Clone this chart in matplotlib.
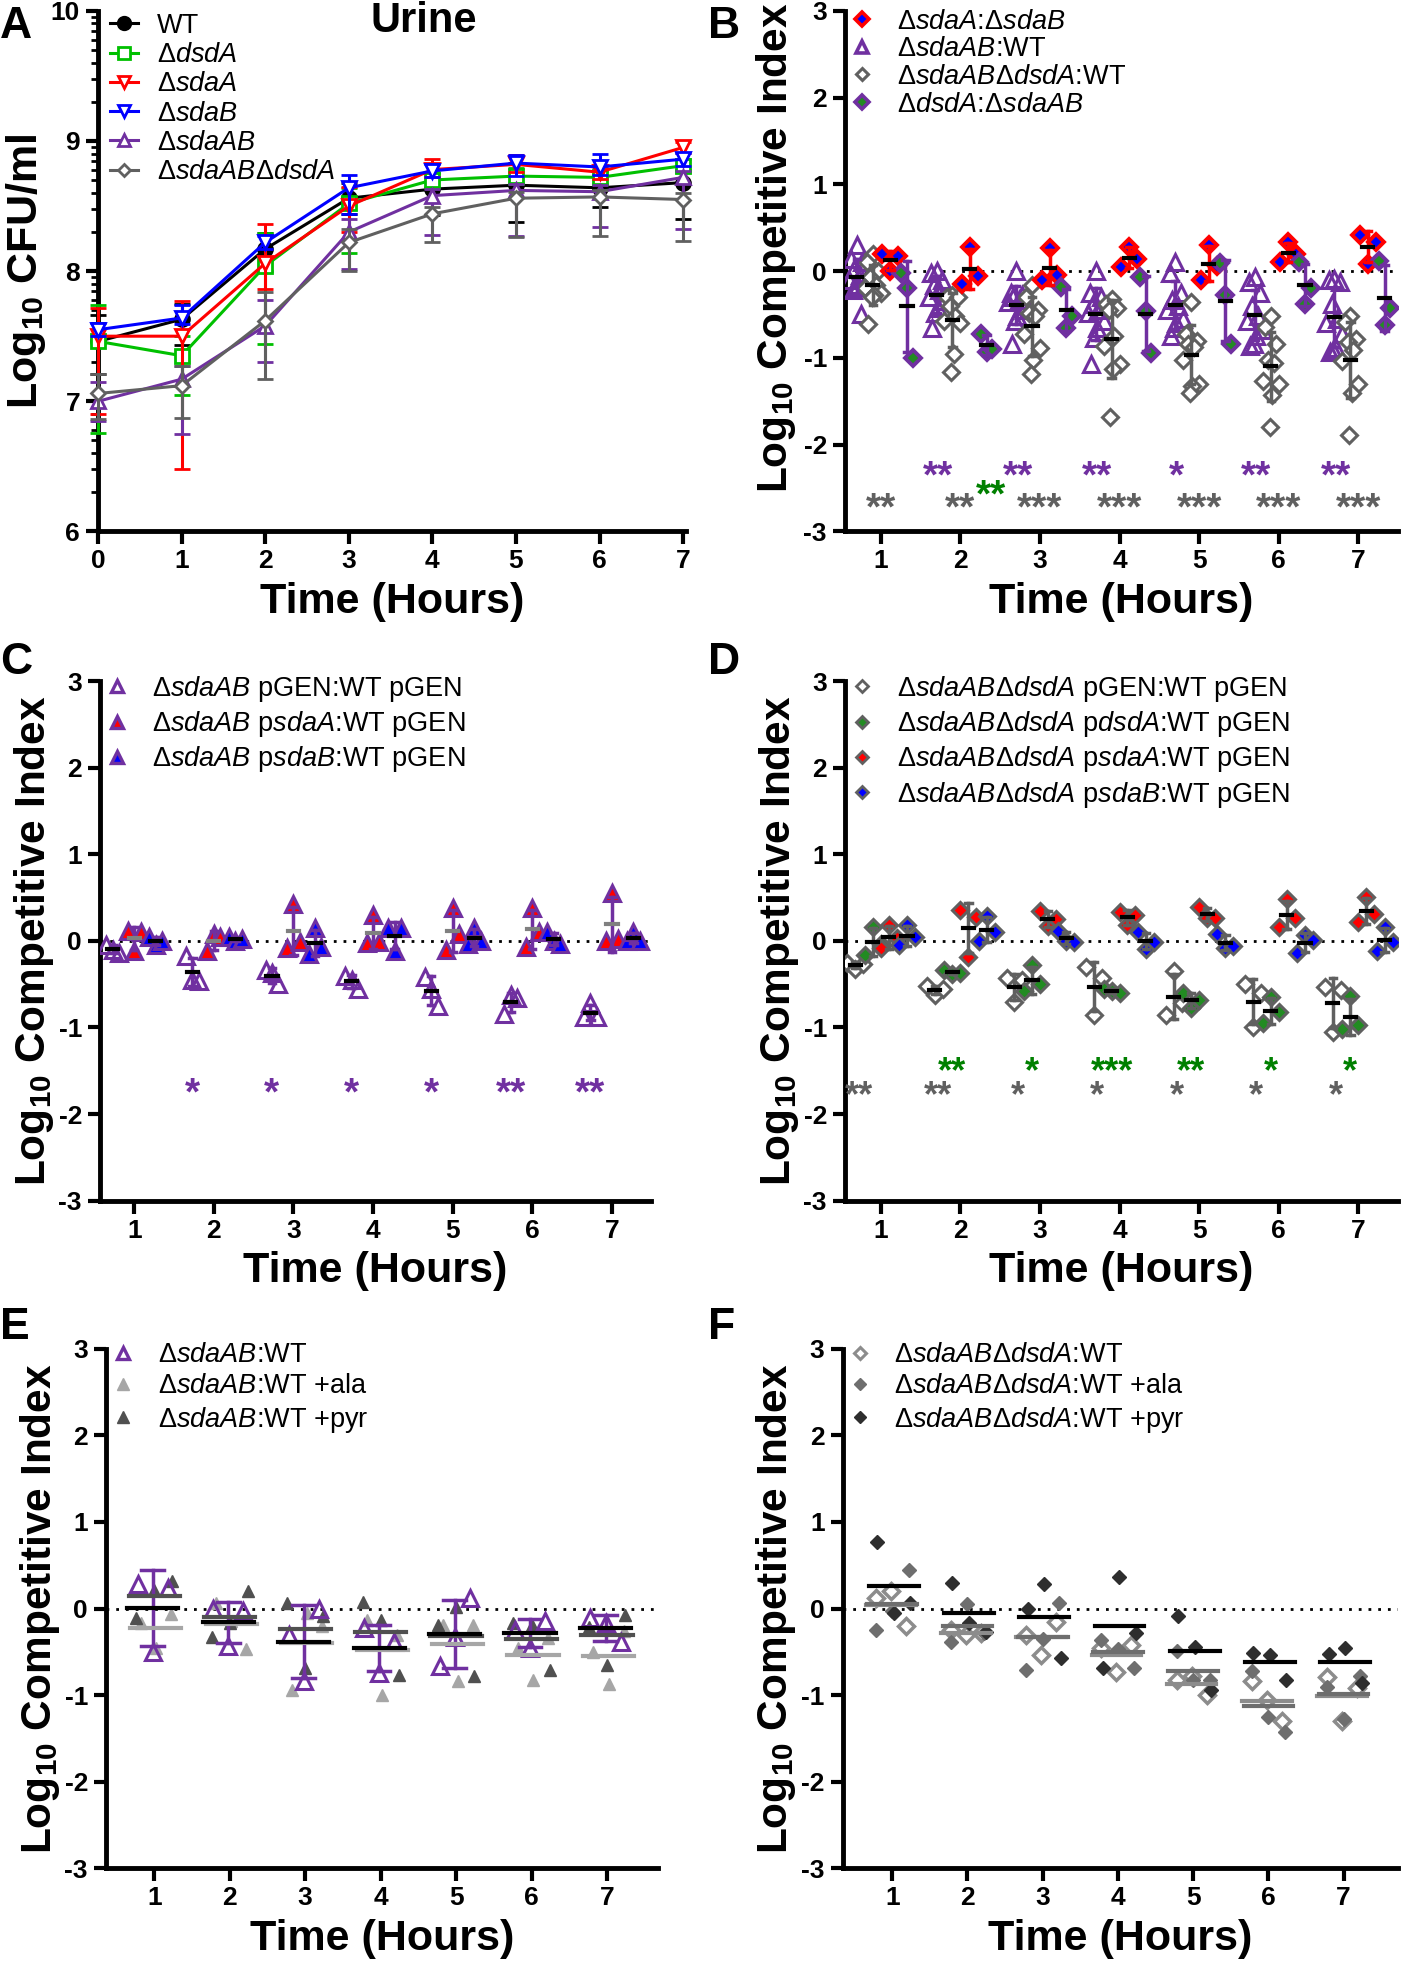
import numpy as np
import matplotlib.pyplot as plt
from matplotlib.lines import Line2D

plt.rcParams['font.family'] = ['Liberation Sans', 'DejaVu Sans']
plt.rcParams['mathtext.fontset'] = 'custom'
plt.rcParams['mathtext.rm'] = 'Liberation Sans'
plt.rcParams['mathtext.it'] = 'Liberation Sans:italic'
plt.rcParams['mathtext.bf'] = 'Liberation Sans:bold'
plt.rcParams['axes.unicode_minus'] = False

PURPLE = '#7030A0'
GRAY = '#606060'
LGRAY = '#A6A6A6'
DGRAY = '#505050'
RED = '#FF0000'
BLUE = '#0000FF'
DGREEN = '#228B22'

# ---------------- Panel A: growth in urine (log10 CFU/ml) ----------------
hours = [0, 1, 2, 3, 4, 5, 6, 7]
wt_mean = [7.46, 7.63, 8.17, 8.56, 8.63, 8.66, 8.64, 8.68]
wt_lo = [0.25, 0.2, 0.17, 0.12, 0.2, 0.28, 0.15, 0.28]
wt_hi = [0.2, 0.12, 0.12, 0.12, 0.12, 0.17, 0.1, 0.1]
dsdA_mean = [7.46, 7.35, 8.04, 8.52, 8.70, 8.73, 8.72, 8.81]
dsdA_lo = [0.7, 0.3, 0.6, 0.38, 0.06, 0.06, 0.05, 0.05]
dsdA_hi = [0.28, 0.15, 0.25, 0.12, 0.06, 0.06, 0.05, 0.05]
sdaA_mean = [7.50, 7.50, 8.06, 8.50, 8.78, 8.82, 8.76, 8.95]
sdaA_lo = [0.6, 1.02, 0.2, 0.2, 0.06, 0.06, 0.05, 0.04]
sdaA_hi = [0.22, 0.27, 0.3, 0.15, 0.08, 0.07, 0.04, 0.04]
sdaB_mean = [7.55, 7.64, 8.22, 8.64, 8.77, 8.83, 8.80, 8.86]
sdaB_lo = [0.05, 0.05, 0.05, 0.2, 0.05, 0.1, 0.06, 0.05]
sdaB_hi = [0.05, 0.1, 0.05, 0.1, 0.05, 0.06, 0.1, 0.05]
sdaAB_mean = [7.00, 7.17, 7.58, 8.30, 8.58, 8.62, 8.61, 8.72]
sdaAB_lo = [0.15, 0.42, 0.28, 0.28, 0.3, 0.35, 0.27, 0.4]
sdaAB_hi = [0.15, 0.1, 0.2, 0.1, 0.05, 0.05, 0.05, 0.05]
triple_mean = [7.06, 7.12, 7.62, 8.22, 8.44, 8.56, 8.57, 8.55]
triple_lo = [0.2, 0.25, 0.45, 0.22, 0.22, 0.3, 0.3, 0.32]
triple_hi = [0.15, 0.15, 0.22, 0.1, 0.05, 0.05, 0.05, 0.05]

# ---------------- Panel B: competitive indices ----------------
b_sdaA_sdaB = [[0.2, 0.0, 0.17], [-0.15, 0.28, -0.06], [-0.1, 0.27, -0.05],
               [0.05, 0.28, 0.14], [-0.1, 0.3, 0.06], [0.11, 0.33, 0.2], [0.42, 0.08, 0.34]]
b_sdaAB_WT = [[0.3, 0.14, 0.1, 0.02, -0.05, -0.1, -0.14, -0.16, -0.18, -0.22, -0.5],
              [0.0, -0.02, -0.1, -0.16, -0.22, -0.3, -0.35, -0.43, -0.48, -0.66],
              [0.0, -0.25, -0.28, -0.3, -0.33, -0.36, -0.45, -0.52, -0.57, -0.84],
              [0.0, -0.25, -0.3, -0.38, -0.45, -0.48, -0.57, -0.66, -0.77, -1.07],
              [0.1, -0.02, -0.25, -0.33, -0.4, -0.45, -0.55, -0.6, -0.66, -0.75],
              [-0.07, -0.13, -0.25, -0.4, -0.52, -0.57, -0.68, -0.75, -0.84, -0.86],
              [-0.09, -0.1, -0.13, -0.38, -0.55, -0.6, -0.73, -0.89, -0.91, -0.93]]
b_triple_WT = [[0.2, 0.1, 0.0, -0.07, -0.16, -0.2, -0.25, -0.27, -0.3, -0.61],
               [-0.27, -0.3, -0.3, -0.4, -0.52, -0.58, -0.6, -0.95, -1.16],
               [-0.16, -0.3, -0.45, -0.48, -0.52, -0.72, -0.89, -1.03, -1.18],
               [-0.32, -0.38, -0.43, -0.45, -0.75, -0.86, -1.07, -1.13, -1.68],
               [-0.36, -0.73, -0.8, -0.84, -0.88, -1.02, -1.3, -1.32, -1.41],
               [-0.52, -0.64, -0.84, -1.02, -1.06, -1.27, -1.3, -1.43, -1.8],
               [-0.52, -0.59, -0.78, -0.82, -0.91, -1.04, -1.3, -1.41, -1.89]]
b_dsdA_sdaAB = [[-0.02, -0.2, -1.0], [-0.72, -0.93, -0.9], [-0.18, -0.65, -0.52],
                [-0.07, -0.46, -0.94], [0.09, -0.27, -0.84], [0.1, -0.38, -0.2], [0.12, -0.62, -0.42]]
b_stars_purple = ['', '**', '**', '**', '*', '**', '**']
b_stars_gray = ['**', '**', '***', '***', '***', '***', '***']
b_stars_green = ['', '**', '', '', '', '', '']

# ---------------- Panel C: sdaAB complementation ----------------
c_pGEN = [[-0.05, -0.1, -0.14], [-0.17, -0.45, -0.46], [-0.33, -0.37, -0.5],
          [-0.4, -0.45, -0.55], [-0.42, -0.55, -0.75], [-0.84, -0.63, -0.66], [-0.88, -0.72, -0.88]]
c_psdaA = [[0.12, -0.12, 0.1], [-0.12, 0.08, 0.05], [-0.08, 0.43, -0.01],
           [-0.02, 0.3, -0.01], [-0.1, 0.38, 0.08], [-0.07, 0.38, 0.1], [0.0, 0.56, 0.02]]
c_psdaB = [[0.05, -0.05, 0.0], [0.05, 0.0, 0.02], [-0.15, 0.15, -0.07],
           [0.15, -0.12, 0.15], [-0.03, 0.15, 0.0], [0.1, 0.0, -0.03], [0.0, 0.1, 0.0]]
c_stars = ['', '*', '*', '*', '*', '**', '**']

# ---------------- Panel D: sdaABdsdA complementation ----------------
d_pGEN = [[-0.25, -0.32, -0.27], [-0.52, -0.62, -0.56], [-0.43, -0.7, -0.45],
          [-0.3, -0.85, -0.43], [-0.86, -0.35, -0.72], [-0.5, -1.0, -0.6], [-0.53, -1.05, -0.57]]
d_pdsdA = [[-0.16, 0.16, -0.04], [-0.34, -0.38, -0.37], [-0.58, -0.28, -0.5],
           [-0.55, -0.58, -0.6], [-0.6, -0.78, -0.68], [-0.95, -0.65, -0.82], [-1.02, -0.64, -0.97]]
d_psdaA = [[-0.08, 0.18, 0.03], [0.36, -0.18, 0.28], [0.35, 0.17, 0.25],
           [0.34, 0.18, 0.3], [0.39, 0.26, 0.27], [0.16, 0.48, 0.27], [0.22, 0.51, 0.31]]
d_psdaB = [[-0.05, 0.18, 0.05], [0.0, 0.29, 0.1], [0.12, 0.0, -0.01],
           [0.1, -0.09, -0.01], [0.08, -0.08, -0.06], [-0.14, 0.07, 0.01], [-0.12, 0.16, -0.01]]
d_stars_green = ['', '**', '*', '***', '**', '*', '*']
d_stars_gray = ['**', '**', '*', '*', '*', '*', '*']

# ---------------- Panel E: sdaAB:WT with supplements ----------------
e_none = [[0.28, -0.5, 0.24], [-0.01, -0.43, -0.03], [-0.3, -0.84, -0.01],
          [-0.22, -0.74, -0.39], [-0.66, -0.33, 0.12], [-0.25, -0.46, -0.14], [-0.11, -0.17, -0.39]]
e_ala = [[-0.17, -0.45, -0.06], [0.07, -0.14, -0.47], [-0.94, -0.05, -0.2],
         [-0.13, -1.0, -0.3], [-0.19, -0.84, -0.19], [-0.46, -0.82, -0.34], [-0.5, -0.87, -0.26]]
e_pyr = [[-0.11, 0.21, 0.32], [-0.33, -0.17, 0.2], [0.06, -0.68, -0.08],
         [0.08, -0.13, -0.77], [-0.19, 0.02, -0.78], [-0.17, -0.19, -0.71], [-0.21, -0.65, -0.07]]

# ---------------- Panel F: sdaABdsdA:WT with supplements ----------------
f_none = [[0.12, 0.2, -0.2], [-0.25, -0.3, -0.28], [-0.3, -0.53, -0.16],
          [-0.45, -0.73, -0.42], [-0.82, -0.78, -1.0], [-0.84, -1.06, -1.3], [-0.79, -1.3, -0.92]]
f_ala = [[-0.25, -0.03, 0.44], [-0.38, 0.05, -0.28], [-0.71, -0.35, 0.07],
         [-0.36, -0.47, -0.68], [-0.49, -0.83, -0.83], [-0.72, -1.25, -1.42], [-0.9, -1.28, -0.78]]
f_pyr = [[0.77, -0.05, 0.07], [0.29, -0.17, -0.27], [0.0, 0.28, -0.57],
         [-0.68, 0.37, -0.28], [-0.09, -0.44, -0.94], [-0.51, -0.53, -0.82], [-0.52, -0.46, -0.86]]

times = np.arange(1, 8)
LEG_FS = 19.5

fig = plt.figure(figsize=(14.02, 19.61), dpi=100)


def style_axis(ax):
    for s in ('top', 'right'):
        ax.spines[s].set_visible(False)
    for s in ('left', 'bottom'):
        ax.spines[s].set_linewidth(3.5)
    ax.tick_params(axis='both', which='major', width=3, length=9, labelsize=19, pad=4)
    for lbl in ax.get_xticklabels() + ax.get_yticklabels():
        lbl.set_fontweight('bold')


def ci_axis(ax, xlim):
    ax.set_xlim(*xlim)
    ax.set_ylim(-3, 3)
    ax.set_xticks(times)
    ax.set_yticks(range(-3, 4))
    ax.axhline(0, color='black', ls=(0, (1, 2.5)), lw=2, zorder=1)
    ax.set_xlabel('Time (Hours)', fontsize=31, fontweight='bold', labelpad=6)
    ax.set_ylabel(r'Log$_{\mathbf{10}}$ Competitive Index', fontsize=30.5, fontweight='bold', labelpad=2)
    style_axis(ax)


def spread(n, w):
    if n <= 3:
        return np.linspace(-w, w, n)
    pat = np.array([0.0, -0.7, 0.7, -0.35, 0.35, -1.0, 1.0, 0.15, -0.15, -0.55, 0.55, 0.0])
    return pat[:n] * w


def draw_group(ax, data, offset, w, marker, face, edge, ms, mew=2.2,
               bar=None, line='black', half=0.07, cap=0.04, lw_line=3):
    for t, vals in zip(times, data):
        xs = t + offset + spread(len(vals), w)
        ax.plot(xs, vals, ls='none', marker=marker, mfc=face, mec=edge, ms=ms, mew=mew, zorder=3)
        m = np.mean(vals)
        sd = np.std(vals, ddof=1)
        xc = t + offset
        if bar is not None:
            ax.plot([xc, xc], [m - sd, m + sd], color=bar, lw=2.5, zorder=4)
            for yy in (m - sd, m + sd):
                ax.plot([xc - cap, xc + cap], [yy, yy], color=bar, lw=2.5, zorder=4)
        ax.plot([xc - half, xc + half], [m, m], color=line, lw=lw_line, zorder=5)


def stars(ax, labels, offset, y, color, size=28):
    for t, s in zip(times, labels):
        if s:
            ax.text(t + offset, y, s, color=color, fontsize=size, fontweight='bold',
                    ha='center', va='center')


def handle(marker, face, edge, ms, mew=2.0):
    return Line2D([], [], ls='none', marker=marker, mfc=face, mec=edge, ms=ms, mew=mew)


def ci_legend(ax, handles, labels, top, spacing):
    ax.legend(handles, labels, loc='upper left', bbox_to_anchor=(0.0127, top), frameon=False,
              fontsize=LEG_FS, handlelength=0.75, handletextpad=0.9, labelspacing=spacing,
              borderpad=0, borderaxespad=0)


# ---------------- A ----------------
axA = fig.add_axes([0.07, 0.729, 0.419, 0.2655])
series = [
    ('WT', wt_mean, wt_lo, wt_hi, 'black', 'o', 'black'),
    (r'$\mathit{\Delta dsdA}$', dsdA_mean, dsdA_lo, dsdA_hi, '#00C000', 's', 'white'),
    (r'$\mathit{\Delta sdaA}$', sdaA_mean, sdaA_lo, sdaA_hi, RED, 'v', 'white'),
    (r'$\mathit{\Delta sdaB}$', sdaB_mean, sdaB_lo, sdaB_hi, BLUE, 'v', 'white'),
    (r'$\mathit{\Delta sdaAB}$', sdaAB_mean, sdaAB_lo, sdaAB_hi, PURPLE, '^', 'white'),
    (r'$\mathit{\Delta sdaAB\Delta dsdA}$', triple_mean, triple_lo, triple_hi, GRAY, 'D', 'white'),
]
order = [5, 4, 1, 2, 3, 0]
for k in order:
    lab, m, lo, hi, col, mk, fc = series[k]
    ms = 7 if mk == 'D' else 10
    axA.errorbar(hours, m, yerr=[lo, hi], color=col, lw=2.2, elinewidth=2.2, capsize=6, capthick=2.2,
                 marker=mk, mfc=fc, mec=col, ms=ms, mew=2, clip_on=False, zorder=3 + k)
axA.set_xlim(0, 7.03)
axA.set_ylim(6, 10)
axA.set_xticks(hours)
axA.set_yticks([6, 7, 8, 9, 10])
axA.set_yticks([k + np.log10(j) for k in range(6, 10) for j in range(2, 10)], minor=True)
axA.tick_params(axis='y', which='minor', width=2, length=5)
axA.set_xlabel('Time (Hours)', fontsize=31, fontweight='bold', labelpad=6)
axA.set_ylabel(r'Log$_{\mathbf{10}}$ CFU/ml', fontsize=31, fontweight='bold', labelpad=2)
style_axis(axA)
hA = [Line2D([], [], color=s[4], lw=2.2, marker=s[5], mfc=s[6], mec=s[4],
             ms=6 if s[5] == 'D' else 9, mew=2) for s in series]
axA.legend(hA, [s[0] for s in series], loc='upper left', bbox_to_anchor=(0.0204, 0.996), frameon=False,
           fontsize=LEG_FS, handlelength=1.04, handletextpad=0.7, labelspacing=0.12,
           borderpad=0, borderaxespad=0)
fig.text(0.3025, 0.9995, 'Urine', ha='center', va='top', fontsize=30, fontweight='bold')

# ---------------- B ----------------
axB = fig.add_axes([0.6027, 0.729, 0.3945, 0.2655])
ci_axis(axB, (0.55, 7.5))
axB.yaxis.set_label_coords(-0.085, 0.545)
draw_group(axB, b_sdaAB_WT, -0.3, 0.1, '^', 'none', PURPLE, 11, bar=PURPLE)
draw_group(axB, b_triple_WT, -0.1, 0.1, 'D', 'white', GRAY, 8, bar=GRAY)
draw_group(axB, b_sdaA_sdaB, 0.12, 0.1, 'D', BLUE, RED, 8, mew=2.8, bar=RED)
draw_group(axB, b_dsdA_sdaAB, 0.33, 0.07, 'D', DGREEN, PURPLE, 8, mew=2.8, bar=PURPLE)
stars(axB, b_stars_purple, -0.28, -2.38, PURPLE)
stars(axB, b_stars_green, 0.38, -2.6, 'green')
stars(axB, b_stars_gray, 0.0, -2.75, GRAY)
hB = [handle('D', BLUE, RED, 7, 2.6), handle('^', 'none', PURPLE, 9, 2.6),
      handle('D', 'white', GRAY, 6.5, 2.2), handle('D', DGREEN, PURPLE, 7, 2.6)]
lB = [r'$\mathit{\Delta sdaA}$:$\mathit{\Delta sdaB}$', r'$\mathit{\Delta sdaAB}$:WT',
      r'$\mathit{\Delta sdaAB\Delta dsdA}$:WT', r'$\mathit{\Delta dsdA}$:$\mathit{\Delta sdaAB}$']
ci_legend(axB, hB, lB, 1.004, 0.06)

# ---------------- C ----------------
axC = fig.add_axes([0.0713, 0.3878, 0.393, 0.2647])
ci_axis(axC, (0.57, 7.49))
draw_group(axC, c_pGEN, -0.27, 0.08, '^', 'none', PURPLE, 11, bar=PURPLE)
draw_group(axC, c_psdaA, 0.0, 0.08, '^', RED, PURPLE, 11, bar=PURPLE, line='#808080')
draw_group(axC, c_psdaB, 0.27, 0.08, '^', BLUE, PURPLE, 11, bar=PURPLE)
stars(axC, c_stars, -0.27, -1.78, PURPLE)
hC = [handle('^', 'none', PURPLE, 9, 2.4), handle('^', RED, PURPLE, 9, 2.4), handle('^', BLUE, PURPLE, 9, 2.4)]
lC = [r'$\mathit{\Delta sdaAB}$ pGEN:WT pGEN', r'$\mathit{\Delta sdaAB}$ p$\mathit{sdaA}$:WT pGEN',
      r'$\mathit{\Delta sdaAB}$ p$\mathit{sdaB}$:WT pGEN']
ci_legend(axC, hC, lC, 1.015, 0.2)

# ---------------- D ----------------
axD = fig.add_axes([0.6027, 0.3878, 0.3945, 0.2647])
ci_axis(axD, (0.55, 7.5))
draw_group(axD, d_pGEN, -0.32, 0.1, 'D', 'white', GRAY, 8, bar=GRAY)
draw_group(axD, d_pdsdA, -0.1, 0.1, 'D', DGREEN, GRAY, 8, bar=GRAY)
draw_group(axD, d_psdaA, 0.1, 0.1, 'D', RED, GRAY, 8, bar=GRAY)
draw_group(axD, d_psdaB, 0.33, 0.1, 'D', BLUE, GRAY, 8, bar=GRAY)
stars(axD, d_stars_green, -0.1, -1.52, 'green', 26)
stars(axD, d_stars_gray, -0.28, -1.8, GRAY, 26)
hD = [handle('D', 'white', GRAY, 6.5), handle('D', DGREEN, GRAY, 6.5),
      handle('D', RED, GRAY, 6.5), handle('D', BLUE, GRAY, 6.5)]
lD = [r'$\mathit{\Delta sdaAB\Delta dsdA}$ pGEN:WT pGEN', r'$\mathit{\Delta sdaAB\Delta dsdA}$ p$\mathit{dsdA}$:WT pGEN',
      r'$\mathit{\Delta sdaAB\Delta dsdA}$ p$\mathit{sdaA}$:WT pGEN', r'$\mathit{\Delta sdaAB\Delta dsdA}$ p$\mathit{sdaB}$:WT pGEN']
ci_legend(axD, hD, lD, 1.015, 0.2)

# ---------------- E ----------------
axE = fig.add_axes([0.0756, 0.0472, 0.394, 0.265])
ci_axis(axE, (0.36, 7.68))
draw_group(axE, e_ala, 0.02, 0.2, '^', LGRAY, LGRAY, 9, mew=1, line=LGRAY, half=0.34)
draw_group(axE, e_pyr, 0.0, 0.24, '^', DGRAY, DGRAY, 9, mew=1, line=DGRAY, half=0.34)
draw_group(axE, e_none, -0.02, 0.2, '^', 'none', PURPLE, 11, bar=PURPLE, half=0.34, cap=0.15)
hE = [handle('^', 'none', PURPLE, 9, 2.4), handle('^', LGRAY, LGRAY, 8, 1), handle('^', DGRAY, DGRAY, 8, 1)]
lE = [r'$\mathit{\Delta sdaAB}$:WT', r'$\mathit{\Delta sdaAB}$:WT +ala', r'$\mathit{\Delta sdaAB}$:WT +pyr']
ci_legend(axE, hE, lE, 1.013, 0.2)

# ---------------- F ----------------
axF = fig.add_axes([0.601, 0.0472, 0.396, 0.265])
ci_axis(axF, (0.34, 7.72))
draw_group(axF, f_none, -0.02, 0.2, 'D', 'white', '#8C8C8C', 8, mew=2.5, line='#8C8C8C', half=0.33)
draw_group(axF, f_ala, 0.0, 0.22, 'D', '#6E6E6E', '#6E6E6E', 7, mew=1, line='#6E6E6E', half=0.33)
draw_group(axF, f_pyr, 0.02, 0.22, 'D', '#2E2E2E', '#2E2E2E', 7, mew=1, line='black', half=0.33)
hF = [handle('D', 'white', '#8C8C8C', 6.5, 2.2), handle('D', '#6E6E6E', '#6E6E6E', 6, 1),
      handle('D', '#2E2E2E', '#2E2E2E', 6, 1)]
lF = [r'$\mathit{\Delta sdaAB\Delta dsdA}$:WT', r'$\mathit{\Delta sdaAB\Delta dsdA}$:WT +ala',
      r'$\mathit{\Delta sdaAB\Delta dsdA}$:WT +pyr']
ci_legend(axF, hF, lF, 1.013, 0.2)

# panel letters
for lab, x, y in [('A', 0.0, 0.9867), ('B', 0.505, 0.9867), ('C', 0.0, 0.662),
                  ('D', 0.505, 0.662), ('E', 0.0, 0.3233), ('F', 0.505, 0.3233)]:
    fig.text(x, y, lab, fontsize=32, fontweight='bold', ha='left', va='center')

fig.savefig('out.png', dpi=100)
